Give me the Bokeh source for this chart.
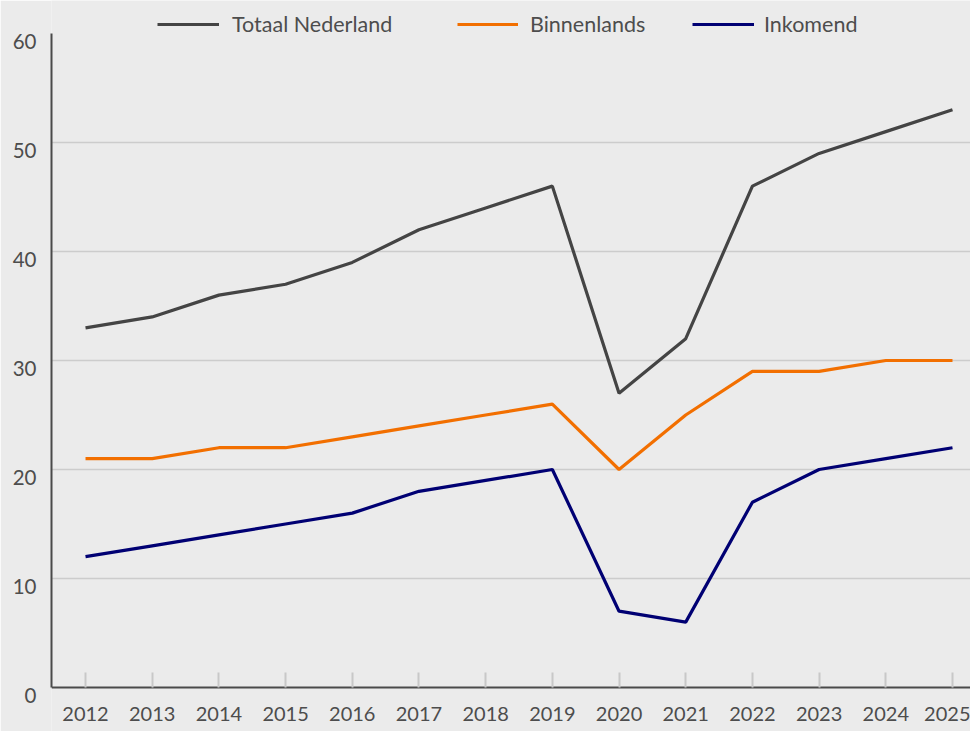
from bokeh.plotting import figure
from bokeh.models import FixedTicker, Range1d, Legend, LegendItem, LinearAxis
from bokeh.embed import file_html
from bokeh.resources import INLINE

years = [2012, 2013, 2014, 2015, 2016, 2017, 2018, 2019, 2020, 2021, 2022, 2023, 2024, 2025]
totaal = [33, 34, 36, 37, 39, 42, 44, 46, 27, 32, 46, 49, 51, 53]
binnenlands = [21, 21, 22, 22, 23, 24, 25, 26, 20, 25, 29, 29, 30, 30]
inkomend = [12, 13, 14, 15, 16, 18, 19, 20, 7, 6, 17, 20, 21, 22]
y_ticks = [0, 10, 20, 30, 40, 50, 60]
grid_ticks = [10, 20, 30, 40, 50]
series_names = ["Totaal Nederland", "Binnenlands", "Inkomend"]

BG = "#ebebeb"
TXT = "#4d4d4d"
FONT = "Lato"

Y0, Y1 = -4.037, 63.03
SHIFT = 0.72  # label offset (units) so labels sit slightly below their gridline

p = figure(width=970, height=731, output_backend="svg", toolbar_location=None,
           x_range=Range1d(2011.49, 2025.27), y_range=Range1d(Y0, Y1),
           y_axis_location=None,
           min_border_left=51, min_border_right=0, min_border_top=0, min_border_bottom=0)
p.extra_y_ranges = {"lab": Range1d(Y0 + SHIFT, Y1 + SHIFT)}
p.background_fill_color = BG
p.border_fill_color = BG
p.outline_line_color = None

r1 = p.line(years, totaal, line_color="#444444", line_width=3.2)
r2 = p.line(years, binnenlands, line_color="#f26f00", line_width=3.2)
r3 = p.line(years, inkomend, line_color="#000073", line_width=3.2)

# x axis
xa = p.xaxis[0]
xa.ticker = FixedTicker(ticks=years)
xa.fixed_location = 0
xa.axis_line_color = "#4a4a4a"
xa.axis_line_width = 2
xa.major_tick_in = 15
xa.major_tick_out = 0
xa.major_tick_line_color = "#c8c8c8"
xa.major_tick_line_width = 2
xa.minor_tick_line_color = None
xa.major_label_standoff = 20
xa.major_label_text_font = FONT
xa.major_label_text_font_size = "20px"
xa.major_label_text_color = TXT

# y axis
ya = LinearAxis(y_range_name="lab", ticker=FixedTicker(ticks=y_ticks),
                bounds=(0 + SHIFT, 60 + SHIFT))
ya.axis_line_color = "#4a4a4a"
ya.axis_line_width = 2
ya.major_tick_line_color = None
ya.minor_tick_line_color = None
ya.major_tick_in = 0
ya.major_tick_out = 0
ya.major_label_standoff = 15
ya.major_label_text_font = FONT
ya.major_label_text_font_size = "20.5px"
ya.major_label_text_color = TXT
p.add_layout(ya, "left")

p.xgrid.grid_line_color = None
p.ygrid.ticker = FixedTicker(ticks=grid_ticks)
p.ygrid.grid_line_color = "#cccccc"
p.ygrid.grid_line_width = 1.5

for label, r, x, gw, so in zip(series_names, [r1, r2, r3], [106, 406, 641], [62, 61, 62], [13, 12, 10]):
    lg = Legend(items=[LegendItem(label=label, renderers=[r])], location=(x, 694),
                orientation="horizontal", padding=0, margin=0,
                glyph_width=gw, glyph_height=20, label_standoff=so,
                label_text_font=FONT, label_text_font_size="21.5px", label_text_color=TXT,
                background_fill_alpha=0, border_line_color=None)
    p.add_layout(lg, "center")

open("out.html", "w").write(file_html(p, INLINE))
